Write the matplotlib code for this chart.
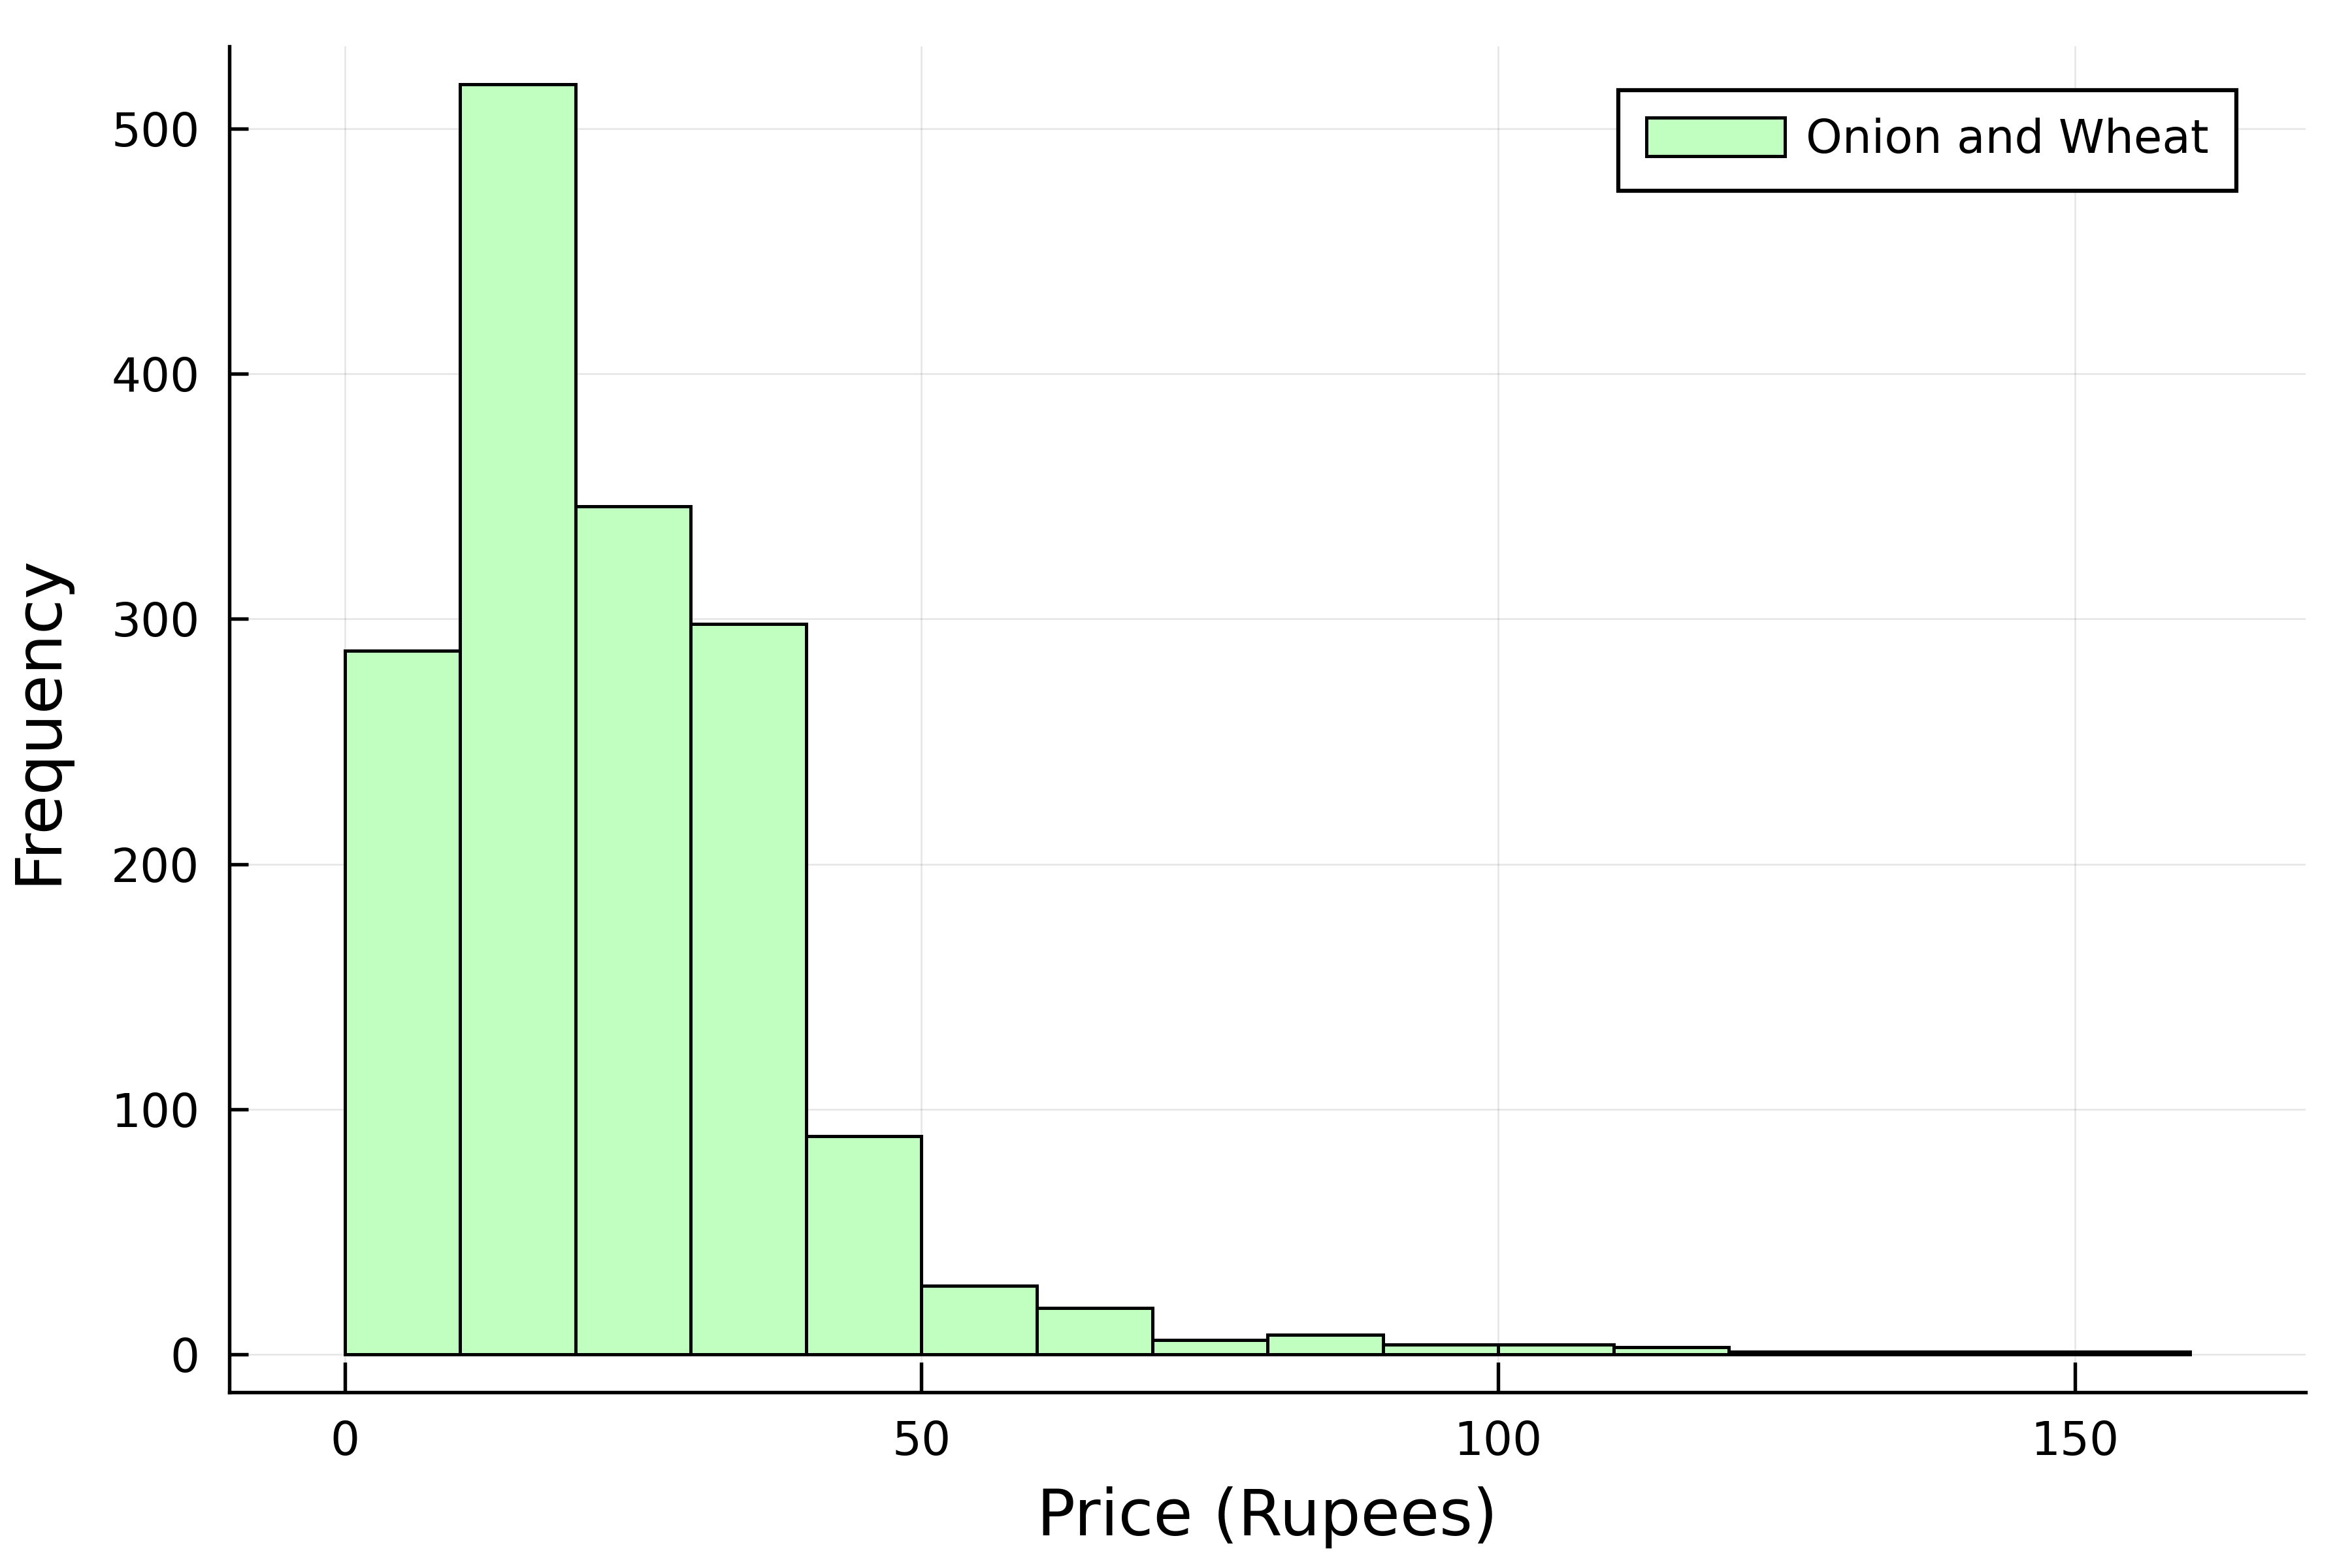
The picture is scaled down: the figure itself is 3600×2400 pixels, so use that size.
import matplotlib.pyplot as plt
from matplotlib.patches import Patch

# histogram data (bin width 10)
bin_left = [0, 10, 20, 30, 40, 50, 60, 70, 80, 90, 100, 110, 120, 130, 140, 150]
counts = [287, 518, 346, 298, 89, 28, 19, 6, 8, 4, 4, 3, 1, 1, 1, 1]
bin_width = 10
series_name = "Onion and Wheat"

x_ticks = [0, 50, 100, 150]
y_ticks = [0, 100, 200, 300, 400, 500]

fill = "#c0ffc0"

fig = plt.figure(figsize=(12, 8), dpi=300)
ax = fig.add_axes([0.0976, 0.1120, 0.8826, 0.8583])

ax.bar(bin_left, counts, width=bin_width, align="edge",
       color=fill, edgecolor="black", linewidth=1.2, zorder=3)

ax.set_xlim(-10, 170)
ax.set_ylim(-15.5, 533.5)
ax.set_xticks(x_ticks)
ax.set_yticks(y_ticks)
ax.grid(True, color="black", alpha=0.1, linewidth=0.6, zorder=0)

for s in ["top", "right"]:
    ax.spines[s].set_visible(False)
for s in ["left", "bottom"]:
    ax.spines[s].set_linewidth(1.3)

ax.tick_params(direction="in", width=1.3, labelsize=17)
ax.tick_params(axis="x", length=11, pad=10)
ax.tick_params(axis="y", length=7, pad=11)

ax.set_xlabel("Price (Rupees)", fontsize=23.5, labelpad=8)
ax.set_ylabel("Frequency", fontsize=23.5, labelpad=15.5)

handle = Patch(facecolor=fill, edgecolor="black", linewidth=1.2)
leg = ax.legend([handle], [series_name], loc="upper right",
                bbox_to_anchor=(0.9668, 0.9677), borderaxespad=0,
                fontsize=17, fancybox=False, framealpha=1,
                edgecolor="black", handlelength=3.0, handleheight=0.9,
                handletextpad=0.45, borderpad=0.6)
leg.get_frame().set_linewidth(1.5)

fig.savefig("out.png", dpi=300)
